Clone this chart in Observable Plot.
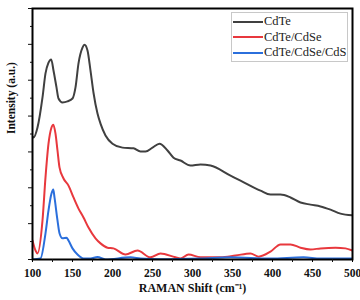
<!DOCTYPE html>
<html>
<head>
<meta charset="utf-8">
<script src="https://cdn.jsdelivr.net/npm/d3@7"></script>
<script src="https://cdn.jsdelivr.net/npm/@observablehq/plot@0.6"></script>
<style>
  html, body { margin: 0; padding: 0; background: #fff; }
  #wrap { position: relative; width: 360px; height: 300px; }
  #legend { position: absolute; left: 231px; top: 12px; width: 117px; height: 50px;
    border: 1px solid #c8c8c8; background: #fff; font-family: "Liberation Serif", serif; font-size: 12.5px; color: #222; box-sizing: border-box; padding-top: 1px; }
  .row { display: flex; align-items: center; height: 15.5px; margin-left: 1px; }
  .sw { width: 30px; height: 2px; margin-right: 1px; }
</style>
</head>
<body>
<div id="wrap"><div id="legend"></div></div>
<script>
const seriesNames = ["CdTe", "CdTe/CdSe", "CdTe/CdSe/CdS"];
const seriesColors = ["#404040", "#e8383d", "#2b6fdc"];

const cdteX = [100,101.25,106.25,112.5,116.25,120,123.4,126.25,130,132.5,137.5,143.75,150,153.75,157.5,162.5,165,168.75,172.5,176.25,181.25,185,191.25,200,212.5,226.25,235,241.25,250,258.75,268.75,276.25,285,297.5,310,322.5,347.5,360,385,397.5,410,422.5,435,447.5,460,472.5,485,500];
const cdteY = [3.43,3.40,3.68,4.52,5.19,5.49,5.58,5.27,4.80,4.49,4.38,4.41,4.49,4.80,5.47,5.91,5.99,5.83,5.27,4.65,4.07,3.79,3.46,3.23,3.12,3.10,3.01,3.01,3.12,3.23,3.04,2.84,2.76,2.62,2.65,2.62,2.34,2.20,1.92,1.81,1.81,1.73,1.59,1.53,1.48,1.39,1.28,1.23];

const cdseX = [100,103.75,106.25,112.5,116.25,120,123.75,126,128.75,131.25,133.75,138.75,145,151.25,157.5,163.75,170,178.75,185,193.75,201.25,216.25,231.25,247.5,260,278.75,285,295,310,335,353.75,372.5,382.5,397.5,410,422.5,435,447.5,460,478.75,491.25,500];
const cdseY = [0.53,0.25,0.17,1.09,2.29,3.23,3.68,3.76,3.51,3.04,2.57,2.26,2.06,1.73,1.42,1.17,0.89,0.59,0.45,0.33,0.31,0.14,0.25,0.06,0.17,0.06,0.03,0.14,0.06,0.06,0.11,0.17,0.08,0.22,0.42,0.42,0.33,0.28,0.31,0.33,0.31,0.25];

const cdsX = [100,110,116.25,120,123.75,126,127.5,131.25,133.75,137.5,142.5,145,150,156.25,163.75,172.5,181.25,191.25,222.5,235,260,310,347.5,397.5,438.75,460,500];
const cdsY = [0,0.03,0.73,1.37,1.84,1.95,1.73,1.09,0.73,0.59,0.61,0.53,0.31,0.14,0.03,0.03,0.07,0.0,0.06,0.03,0.01,0.03,0.06,0.03,0.06,0.03,0.03];

const xTicks = [100,150,200,250,300,350,400,450,500];
const xMinor = [125,175,225,275,325,375,425,475];
const yTicks = [0,1,2,3,4,5,6,7];
const yMinor = [0.5,1.5,2.5,3.5,4.5,5.5,6.5];

const data = [
  ...cdteX.map((x,i)=>({x, y: cdteY[i], s: seriesNames[0]})),
  ...cdseX.map((x,i)=>({x, y: cdseY[i], s: seriesNames[1]})),
  ...cdsX.map((x,i)=>({x, y: cdsY[i], s: seriesNames[2]}))
];

const font = "Liberation Serif, serif";
const chart = Plot.plot({
  width: 360, height: 300,
  marginLeft: 32, marginRight: 8, marginTop: 8, marginBottom: 41,
  style: {fontFamily: font, fontSize: "11px", color: "#111", background: "#fff"},
  x: {domain: [100, 500]},
  y: {domain: [0, 7]},
  color: {domain: seriesNames, range: seriesColors},
  marks: [
    Plot.line(data, {x: "x", y: "y", z: "s", stroke: "s", strokeWidth: 2, curve: "monotone-x", clip: true}),
    Plot.frame({stroke: "#000", strokeWidth: 2}),
    Plot.axisX({ticks: xTicks, tickSize: 3, tickPadding: 6, fontWeight: "bold", fontSize: 11.5, label: null, stroke: "#000"}),
    Plot.axisX({ticks: xMinor, tickSize: 3, text: null, label: null}),
    Plot.axisY({ticks: yTicks, tickSize: 4, text: null, label: null}),
    Plot.axisY({ticks: yMinor, tickSize: 2, text: null, label: null}),
    Plot.text(["RAMAN Shift (cm⁻¹)"], {frameAnchor: "bottom", dy: 32, text: d => d, fontWeight: "bold", fontSize: 12}),
    Plot.text(["Intensity (a.u.)"], {frameAnchor: "left", dx: -21, rotate: -90, text: d => d, fontWeight: "bold", fontSize: 11.5})
  ]
});
const wrap = document.getElementById("wrap");
wrap.insertBefore(chart, wrap.firstChild);
const legend = document.getElementById("legend");
seriesNames.forEach((n,i) => {
  const r = document.createElement("div"); r.className = "row";
  const s = document.createElement("div"); s.className = "sw"; s.style.background = seriesColors[i];
  const t = document.createElement("span"); t.textContent = n;
  r.appendChild(s); r.appendChild(t); legend.appendChild(r);
});
</script>
</body>
</html>
